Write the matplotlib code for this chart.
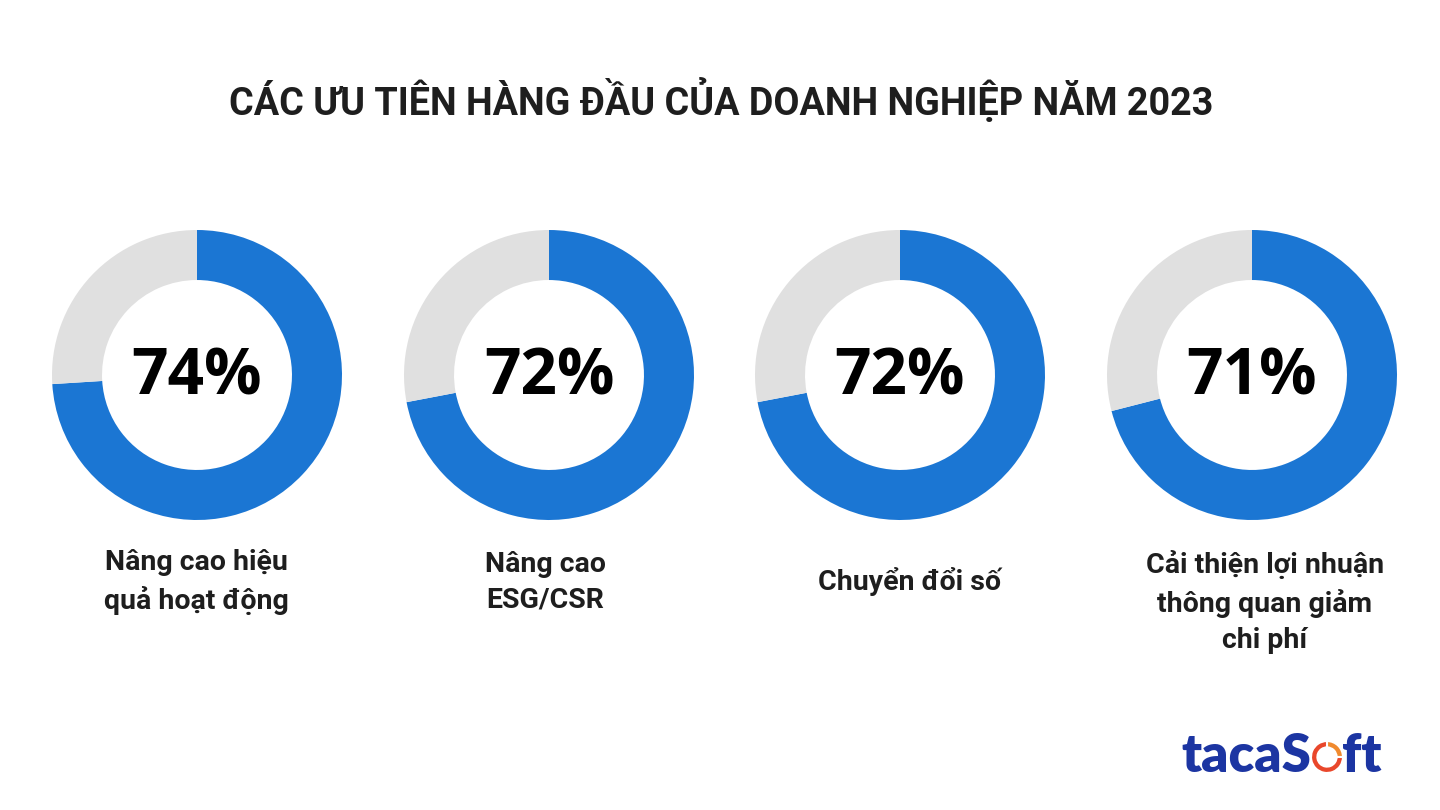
import matplotlib.pyplot as plt

# data
title = "CÁC ƯU TIÊN HÀNG ĐẦU CỦA DOANH NGHIỆP NĂM 2023"
categories = [
    "Nâng cao hiệu\nquả hoạt động",
    "Nâng cao\nESG/CSR",
    "Chuyển đổi số",
    "Cải thiện lợi nhuận\nthông quan giảm\nchi phí",
]
values = [74, 72, 72, 71]

blue = "#1b76d3"
grey = "#e0e0e0"
text_dark = "#1e1e1e"

W, H = 1440, 810
fig = plt.figure(figsize=(14.4, 8.1), dpi=100)
fig.patch.set_facecolor("white")

# overlay axes in pixel coords for text
bg = fig.add_axes([0, 0, 1, 1])
bg.set_xlim(0, W)
bg.set_ylim(H, 0)
bg.axis("off")

bg.text(721, 101, title, ha="center", va="center", fontsize=27.2,
        fontweight="bold", family="Roboto", color=text_dark)

centers_x = [197, 549, 900, 1252]
center_y = 375
r_px = 145
label_x = [196, 545, 910, 1265]
label_y = [582, 582, 582, 602]

for i, (v, lab) in enumerate(zip(values, categories)):
    cx = centers_x[i]
    ax = fig.add_axes([(cx - r_px) / W, 1 - (center_y + r_px) / H,
                       2 * r_px / W, 2 * r_px / H])
    ax.pie([v, 100 - v], colors=[blue, grey], startangle=90, counterclock=False,
           radius=1, wedgeprops=dict(width=0.345, edgecolor="none"))
    ax.set_xlim(-1, 1)
    ax.set_ylim(-1, 1)
    ax.text(0, -0.02, f"{v}%", ha="center", va="center", fontsize=46,
            fontweight="bold", family="Open Sans", color="black")
    bg.text(label_x[i], label_y[i], lab, ha="center", va="center", fontsize=20.5,
            fontweight="bold", family="Roboto", color=text_dark, linespacing=1.42)

# logo
logo_blue = "#1c35a2"
bg.text(1311, 772, "tacaS", ha="right", va="baseline", fontsize=38,
        fontweight="heavy", family="Lato", color=logo_blue)
bg.text(1342, 772, "ft", ha="left", va="baseline", fontsize=38,
        fontweight="heavy", family="Lato", color=logo_blue)
lax = fig.add_axes([(1327 - 16) / W, 1 - (757 + 16) / H, 32 / W, 32 / H])
lax.pie([25, 75], colors=["#f08a2e", "#e9472b"], startangle=90, counterclock=False,
        radius=1, wedgeprops=dict(width=0.4, edgecolor="white", linewidth=1.5))
lax.set_xlim(-1, 1)
lax.set_ylim(-1, 1)

fig.savefig("out.png", dpi=100, facecolor="white")
